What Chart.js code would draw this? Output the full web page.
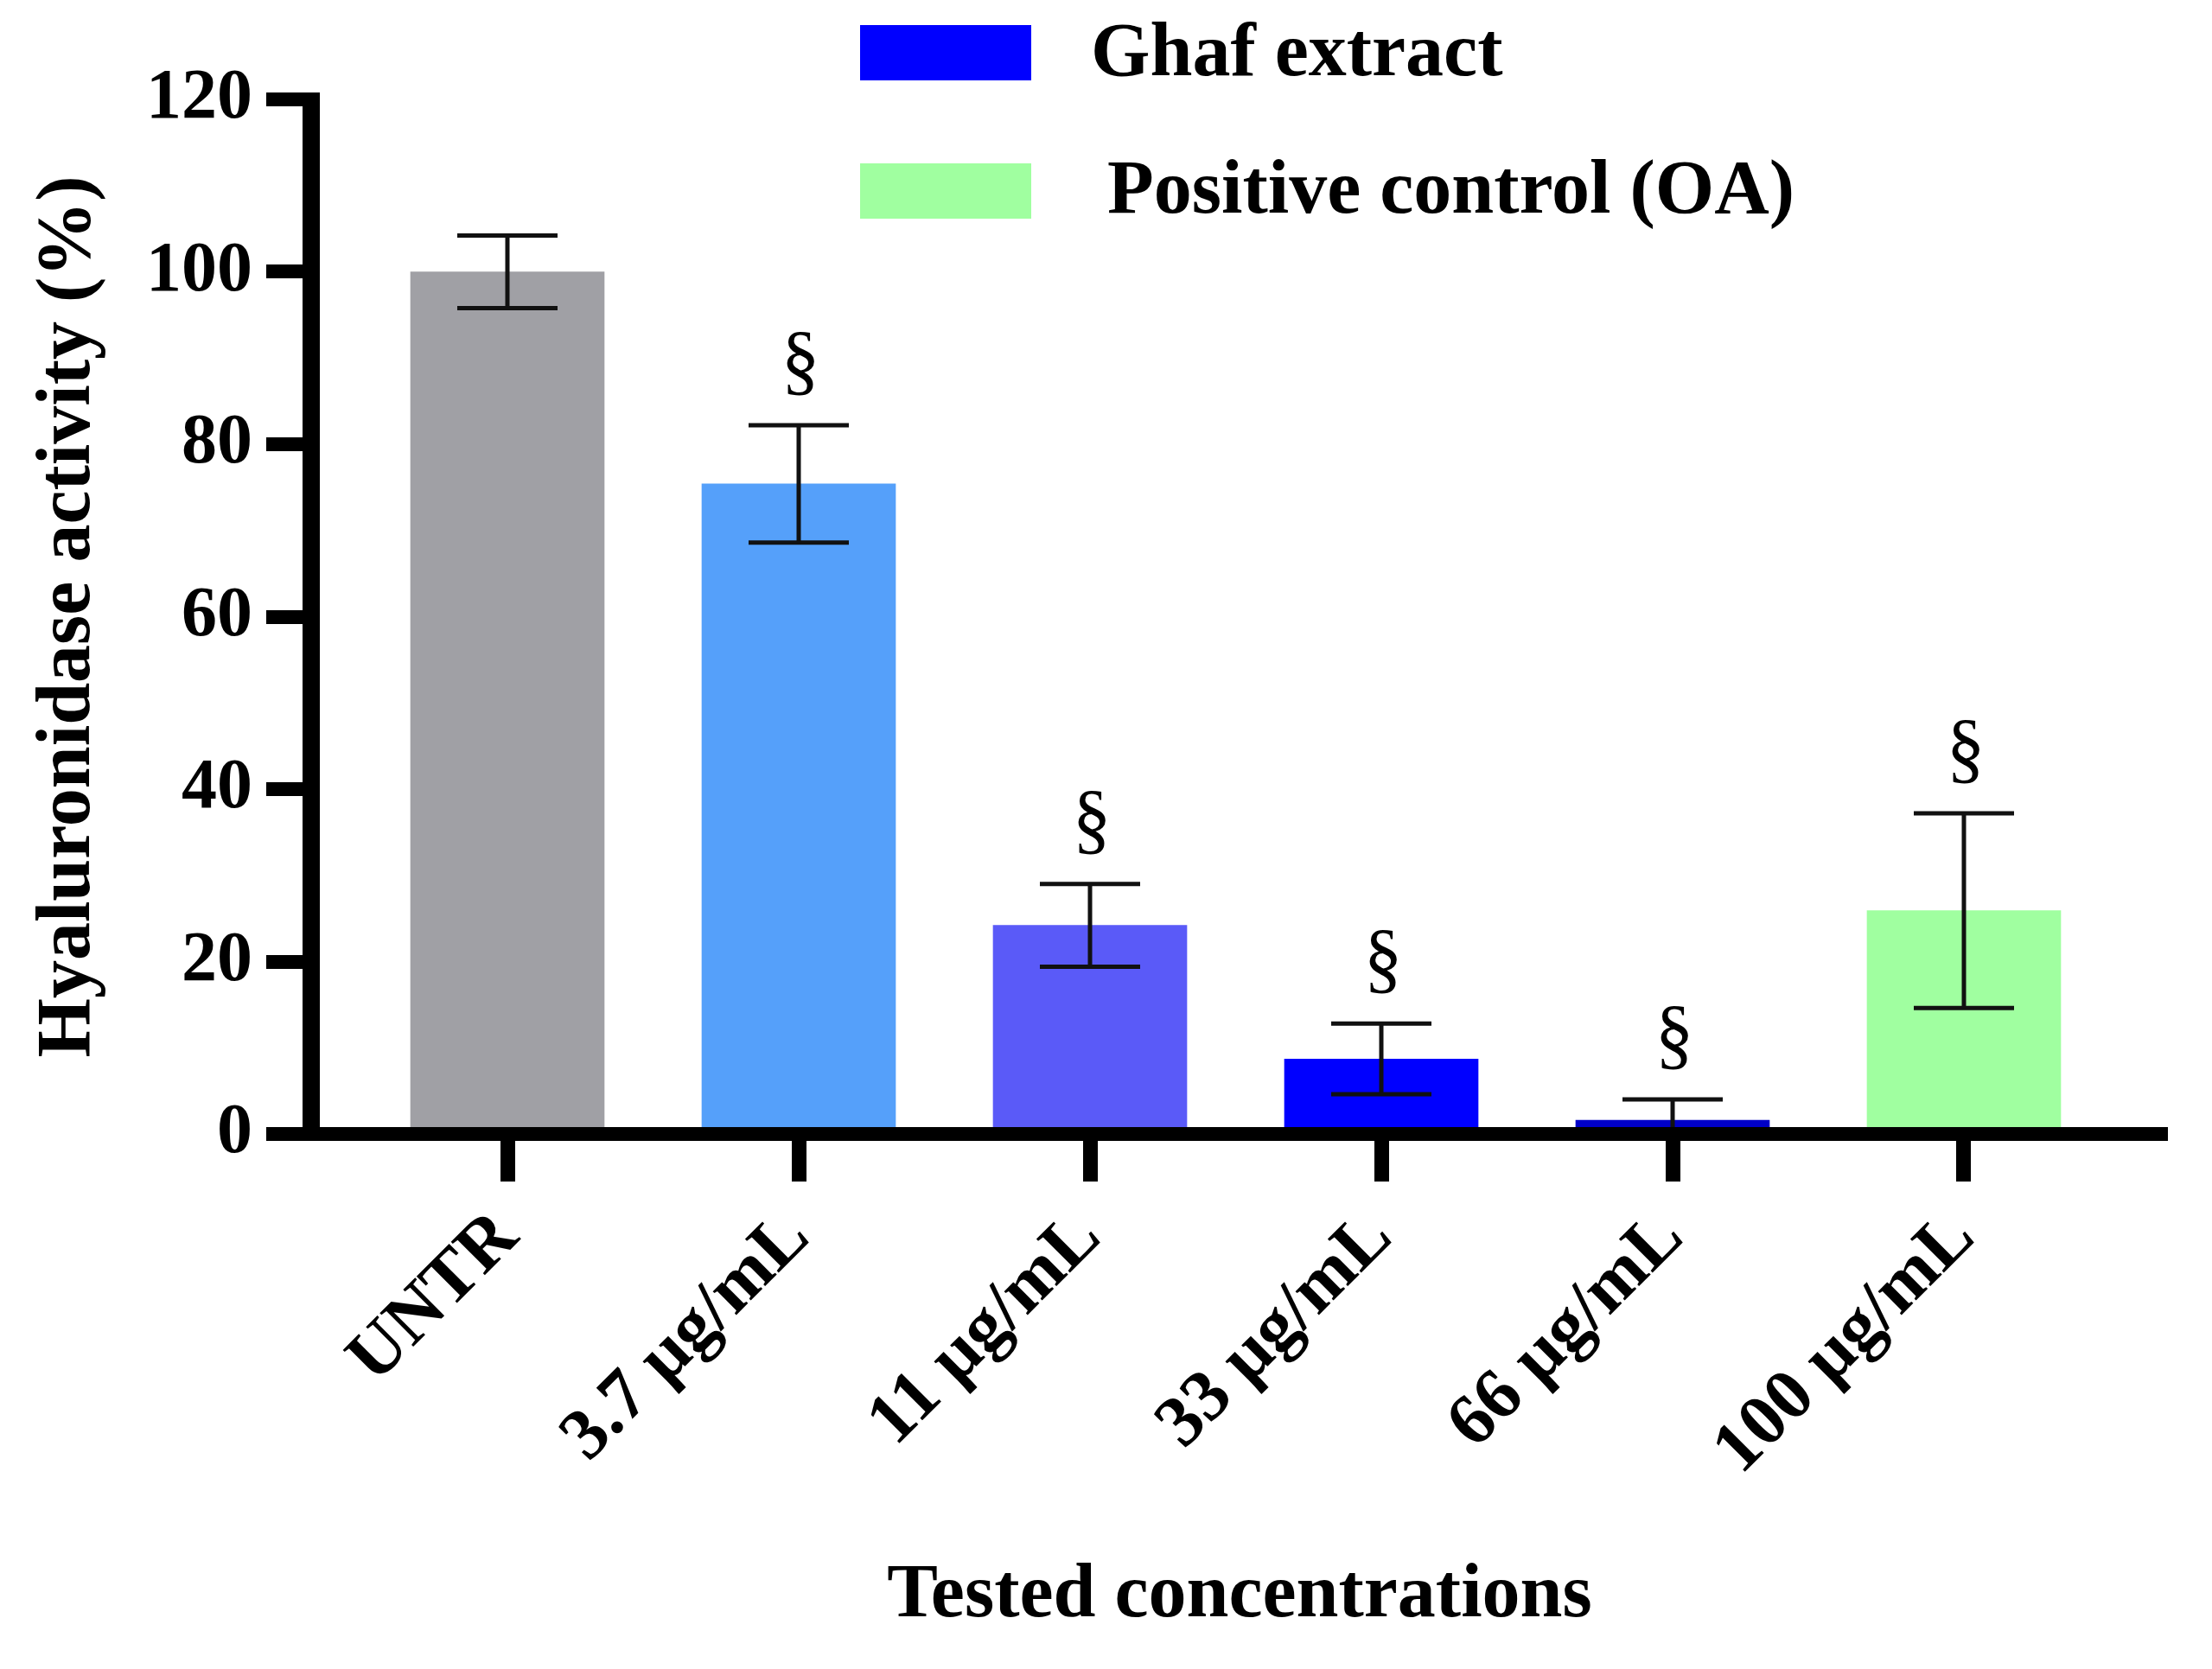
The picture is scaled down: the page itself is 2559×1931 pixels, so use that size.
<!DOCTYPE html>
<html><head><meta charset="utf-8">
<script src="https://cdn.jsdelivr.net/npm/chart.js@4.4.1/dist/chart.umd.min.js"></script>
<style>html,body{margin:0;padding:0;background:#fff;} canvas{display:block;}</style>
</head><body>
<canvas id="c" width="2559" height="1931"></canvas>
<script>
// ---- data ----
const categories = ['UNTR', '3.7 µg/mL', '11 µg/mL', '33 µg/mL', '66 µg/mL', '100 µg/mL'];
const activity = [100, 75.4, 24.2, 8.7, 1.6, 25.9];
const errorSD = [4.2, 6.8, 4.8, 4.1, 2.4, 11.3];
const significance = ['', '§', '§', '§', '§', '§'];
const barColors = ['#A0A0A5', '#55A0FA', '#5A5AF8', '#0000FF', '#0000C8', '#A0FFA0'];
const legendLabels = ['Ghaf extract', 'Positive control (OA)'];
const legendColors = ['#0000FF', '#A0FFA0'];
const yMin = 0, yMax = 120, yStep = 20;
const yTitle = 'Hyaluronidase activity (%)';
const xTitle = 'Tested concentrations';

const FONT = "'Liberation Serif', 'Times New Roman', serif";

const points = categories.map((c, i) => ({x: i, y: activity[i]}));

const decor = {
  id: 'decor',
  afterDatasetsDraw(chart) {
    const ctx = chart.ctx, xs = chart.scales.x, ys = chart.scales.y, ca = chart.chartArea;
    ctx.save();
    // error bars (clipped to plotting area, like the reference)
    ctx.save();
    ctx.beginPath();
    ctx.rect(ca.left, 0, ca.right - ca.left, ca.bottom);
    ctx.clip();
    ctx.strokeStyle = '#111';
    ctx.lineWidth = 5;
    for (let i = 0; i < activity.length; i++) {
      const x = xs.getPixelForValue(i);
      const yt = ys.getPixelForValue(activity[i] + errorSD[i]);
      const yb = ys.getPixelForValue(activity[i] - errorSD[i]);
      ctx.beginPath();
      ctx.moveTo(x, yt); ctx.lineTo(x, yb);
      ctx.moveTo(x - 58, yt); ctx.lineTo(x + 58, yt);
      ctx.moveTo(x - 58, yb); ctx.lineTo(x + 58, yb);
      ctx.stroke();
      if (significance[i]) {
        ctx.fillStyle = '#000';
        ctx.font = 'normal 90px ' + FONT;
        ctx.textAlign = 'center';
        ctx.textBaseline = 'alphabetic';
        ctx.fillText(significance[i], x + 2, yt - 46);
      }
    }
    ctx.restore();
    // axes lines
    ctx.fillStyle = '#000';
    const y0 = ys.getPixelForValue(yMin);
    const yTop = ys.getPixelForValue(yMax);
    ctx.fillRect(ca.left - 52, y0 - 8, ca.right - (ca.left - 52), 16);
    ctx.fillRect(ca.left - 10, yTop - 8, 20, y0 + 8 - (yTop - 8));
    ctx.restore();
  },
  afterDraw(chart) {
    const ctx = chart.ctx;
    ctx.save();
    const boxY = [29, 189];
    const textX = [1262, 1281];
    const baseY = [87, 246];
    for (let i = 0; i < legendLabels.length; i++) {
      ctx.fillStyle = legendColors[i];
      ctx.fillRect(995, boxY[i], 198, 64);
      ctx.fillStyle = '#000';
      ctx.font = 'bold 88px ' + FONT;
      ctx.textAlign = 'left';
      ctx.textBaseline = 'alphabetic';
      ctx.fillText(legendLabels[i], textX[i], baseY[i]);
    }
    ctx.restore();
  }
};

new Chart(document.getElementById('c'), {
  type: 'bar',
  data: {
    datasets: [{
      data: points,
      backgroundColor: barColors,
      borderWidth: 0,
      barThickness: 224
    }]
  },
  options: {
    responsive: false,
    devicePixelRatio: 1,
    animation: false,
    layout: {padding: {top: 115, right: 51, left: 0, bottom: 0}},
    plugins: {legend: {display: false}, tooltip: {enabled: false}},
    scales: {
      x: {
        type: 'linear',
        offset: false,
        min: -0.6736,
        max: 5.7003,
        afterFit(scale) { scale.height = 619; },
        border: {display: false},
        grid: {display: true, offset: false, drawOnChartArea: false, drawTicks: true, tickLength: 55, lineWidth: 17, color: '#000'},
        ticks: {
          stepSize: 1,
          includeBounds: false,
          autoSkip: false,
          minRotation: 45,
          maxRotation: 45,
          padding: 51,
          color: '#000',
          font: {family: FONT, size: 84, weight: 'bold', lineHeight: 0.02},
          callback: (v) => (Number.isInteger(v) && categories[v] !== undefined) ? categories[v] : ''
        },
        title: {display: true, text: xTitle, color: '#000', font: {family: FONT, size: 88, weight: 'bold'}, padding: {top: 0, bottom: 31}}
      },
      y: {
        min: yMin,
        max: yMax,
        afterFit(scale) { scale.width = 360; },
        border: {display: false},
        grid: {display: true, drawOnChartArea: false, drawTicks: true, tickLength: 52, lineWidth: 16, color: '#000'},
        ticks: {stepSize: yStep, padding: 16, color: '#000', font: {family: FONT, size: 82, weight: 'bold'}},
        title: {display: true, text: yTitle, color: '#000', font: {family: FONT, size: 88, weight: 'bold'}, padding: {top: 27, bottom: 0}}
      }
    }
  },
  plugins: [decor]
});
</script>
</body></html>
